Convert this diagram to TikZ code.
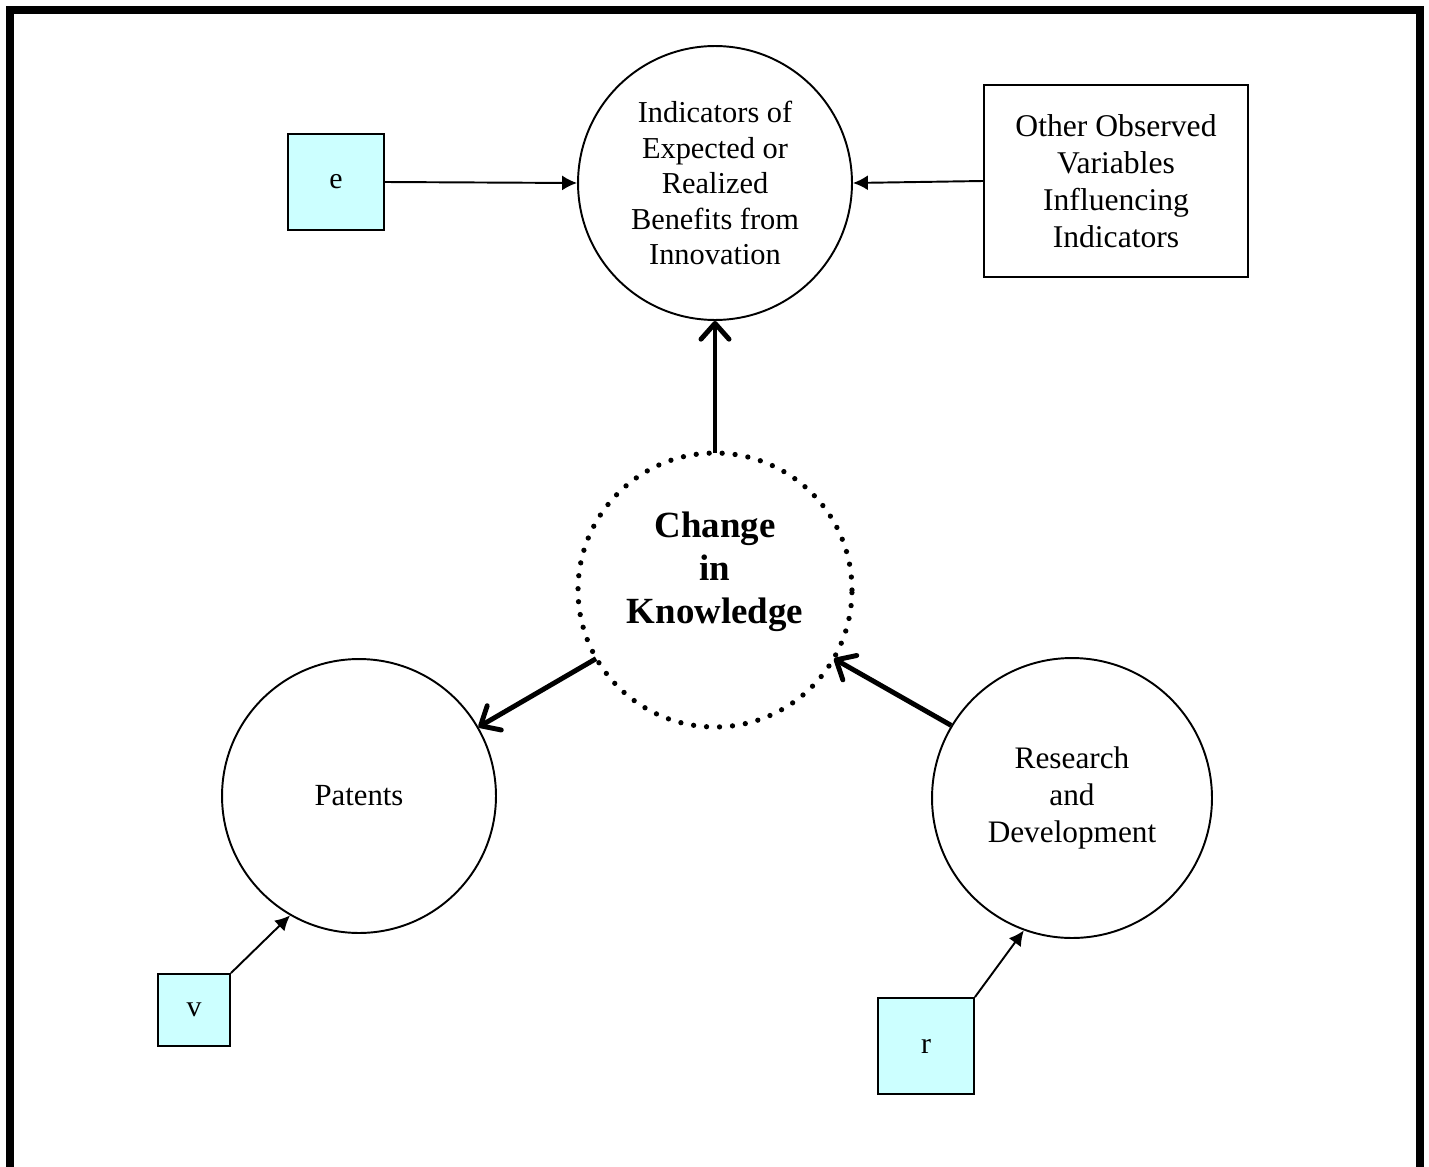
\documentclass[tikz,border=0pt]{standalone}
\usepackage{fontspec}
\setmainfont{Liberation Serif}
\usetikzlibrary{arrows.meta,positioning}
\definecolor{boxcyan}{HTML}{CCFFFF}

\tikzset{
  bubble/.style={draw, circle, line width=1.1pt, minimum size=5.48cm, align=center, inner sep=0pt, font=\fontsize{17.8}{20.8}\selectfont},
  errbox/.style={draw, fill=boxcyan, line width=1.1pt, font=\fontsize{17}{20}\selectfont},
  thin arrow/.style={line width=1.1pt, -{Latex[length=8.5pt,width=8.5pt]}},
  thick arrow/.style={line width=2.8pt, -{Straight Barb[length=9pt,width=16pt,round]}}
}

\begin{document}
\begin{tikzpicture}[x=0.02cm,y=-0.02cm]
\useasboundingbox (0,0) rectangle (1429,1166);
% frame
\draw[line width=4.5pt] (10,1180) -- (10,10) -- (1420,10) -- (1420,1180);
% latent and observed variables
\node[bubble, font=\fontsize{17.3}{20.2}\selectfont] (ind) at (715,183) {Indicators of\\Expected or\\Realized\\Benefits from\\Innovation};
\node[circle, minimum size=5.48cm] (know) at (715,590) {};
\draw[line width=3pt, line cap=round, dash pattern=on 0pt off 7.4pt] (know.center) circle[radius=2.74cm];
\node[align=center, font=\fontsize{21}{24.6}\selectfont\bfseries] (knowtext) at (715,572) {Change\\in\\Knowledge};
\node[bubble, font=\fontsize{17.5}{20.5}\selectfont] (pat) at (359,796) {Patents};
\node[bubble, minimum size=5.6cm] (rnd) at (1072,798) {Research\\and\\Development};
\node[draw, line width=1.1pt, minimum width=5.28cm, minimum height=3.84cm, align=center, font=\fontsize{18}{21}\selectfont] (other) at (1116,181) {Other Observed\\Variables\\Influencing\\Indicators};
% error terms
\node[errbox, minimum size=1.92cm] (e) at (336,182) {e};
\node[errbox, minimum size=1.44cm] (v) at (194,1010) {v};
\node[errbox, minimum size=1.92cm] (r) at (926,1046) {r};
% connectors
\draw[thin arrow] (e.east) -- (ind.west);
\draw[thin arrow] (other.west) -- (ind.east);
\draw[thick arrow] (know.north) -- (ind.south);
\draw[thick arrow] (know.210) -- (pat.30);
\draw[thick arrow] (rnd.149) -- (know.330);
\draw[thin arrow] (v.north east) -- (pat.240);
\draw[thin arrow] (r.north east) -- (rnd.250);
\end{tikzpicture}
\end{document}
